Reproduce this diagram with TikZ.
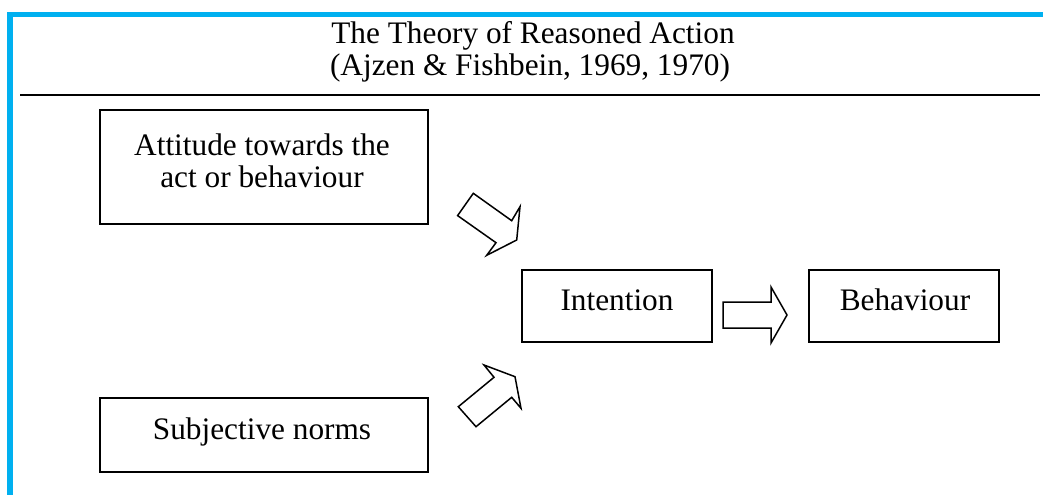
\documentclass[tikz,border=0pt]{standalone}
\usepackage{fontspec}
\setmainfont{Liberation Serif}
\definecolor{frameblue}{RGB}{0,176,240}
\begin{document}
\begin{tikzpicture}[x=1pt,y=-1pt,
  box/.style={draw=black, line width=1.6pt, inner sep=0pt},
  label/.style={anchor=base, inner sep=0pt, font=\fontsize{31.3}{33}\selectfont, align=center},
  blockarrow/.style={draw=black, line width=1.5pt, fill=white, line join=miter}]
  \useasboundingbox (0,0) rectangle (1043,495);

  % frame and header rule
  \fill[frameblue] (7,12) rectangle (1043,17);
  \fill[frameblue] (7,12) rectangle (13,495);
  \draw[line width=2pt] (20,95) -- (1040,95);

  % title
  \node[label] (title1) at (533,44) {The Theory of Reasoned Action};
  \node[label] (title2) at (530,75) {(Ajzen \& Fishbein, 1969, 1970)};

  % boxes
  \node[box, minimum width=328pt, minimum height=114pt] (att) at (264,167) {};
  \node[box, minimum width=328pt, minimum height=74pt] (sub) at (264,435) {};
  \node[box, minimum width=190pt, minimum height=72pt] (int) at (617,306) {};
  \node[box, minimum width=190pt, minimum height=72pt] (beh) at (904,306) {};

  % box texts
  \node[label] (atttext1) at (262,155) {Attitude towards the};
  \node[label] (atttext2) at (262,187) {act or behaviour};
  \node[label] (subtext) at (262,439) {Subjective norms};
  \node[label] (inttext) at (617,310) {Intention};
  \node[label] (behtext) at (905,310) {Behaviour};

  % block arrows
  \draw[blockarrow] (473.3,193.3) -- (511.7,220.7) -- (520,206.7) -- (516.7,240)
    -- (486.7,255.3) -- (496,242.7) -- (457.6,215.6) -- cycle;
  \draw[blockarrow] (458.3,406.7) -- (494,377.3) -- (484,365) -- (515,376.7)
    -- (521,408.3) -- (511.7,397.3) -- (476,426.7) -- cycle;
  \draw[blockarrow] (723,302) -- (771,302) -- (771,287) -- (787,315)
    -- (771,343) -- (771,328) -- (723,328) -- cycle;
\end{tikzpicture}
\end{document}
